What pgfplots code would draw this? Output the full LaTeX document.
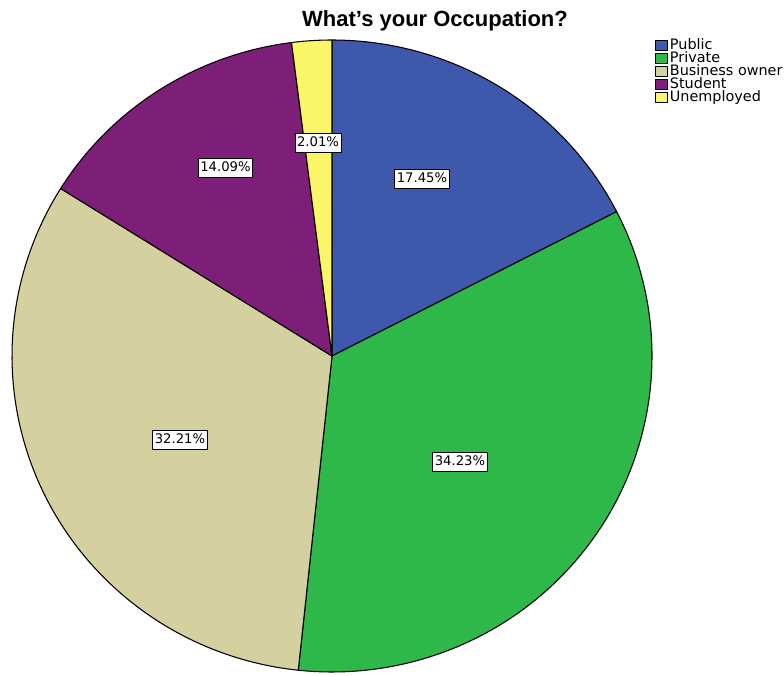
\documentclass[border=0pt]{standalone}
\usepackage{pgfplots}
\usepackage{pgfplotstable}
\pgfplotsset{compat=1.18}
\usepackage{fontspec}
\setmainfont{Liberation Sans}
\newfontfamily\dejavu{DejaVu Sans}

\definecolor{c0}{HTML}{3E58AC}
\definecolor{c1}{HTML}{2EB849}
\definecolor{c2}{HTML}{D5D0A0}
\definecolor{c3}{HTML}{7D1E78}
\definecolor{c4}{HTML}{FAF668}

\tikzset{labbox/.style={fill=white, draw=black, line width=0.6pt, inner xsep=1.6pt, inner ysep=2.6pt,
    text height=7.3pt, text depth=1.7pt, font=\dejavu\fontsize{9.9}{11}\selectfont}}

\pgfplotstableread{
label pct
Public 17.45
Private 34.23
{Business owner} 32.21
Student 14.09
Unemployed 2.01
}\occdata

\begin{document}
\begin{tikzpicture}
\begin{axis}[
  hide axis, scale only axis,
  width=588pt, height=506.25pt,
  xmin=0, xmax=784, ymin=0, ymax=675,
  clip=false,
  legend cell align=left,
  legend image code/.code={\draw[#1,draw=black,line width=0.5pt] (0pt,-3.8pt) rectangle (9pt,3.8pt);},
  legend style={at={(655/784,1-39/675)}, anchor=north west, draw=none, fill=none,
    font=\dejavu\fontsize{10.8}{12}\selectfont, inner sep=0pt, row sep=0pt,
    nodes={inner ysep=0.6pt, inner xsep=1.5pt, text height=6.9pt, text depth=1.65pt}},
]
\pgfmathsetmacro\startang{90}
\pgfplotsforeachungrouped \i in {0,...,4}{%
  \pgfplotstablegetelem{\i}{pct}\of\occdata \let\pct\pgfplotsretval
  \pgfplotstablegetelem{\i}{label}\of\occdata \let\lab\pgfplotsretval
  \pgfmathsetmacro\endang{\startang-3.6*\pct}%
  \edef\tmp{\noexpand\addplot[fill=c\i, draw=black, line width=0.8pt, line join=round, domain=\endang:\startang, samples=90] ({332+320*cos(x)},{319+316*sin(x)}) -- (axis cs:332,319) -- cycle; \noexpand\addlegendentry{\lab}}%
  \tmp
  \global\let\startang\endang
}
\node[labbox] at (axis cs:422,675-178.5) {17.45\%};
\node[labbox] at (axis cs:460,675-462) {34.23\%};
\node[labbox] at (axis cs:180,675-440) {32.21\%};
\node[labbox] at (axis cs:225.5,675-168) {14.09\%};
\node[labbox] at (axis cs:318,675-143) {2.01\%};
\node[anchor=base, font=\bfseries\fontsize{16.5}{18}\selectfont] at (axis cs:435,675-27) {What’s your Occupation?};
\end{axis}
\pgfresetboundingbox
\useasboundingbox (current axis.south west) rectangle (current axis.north east);
\end{tikzpicture}
\end{document}
